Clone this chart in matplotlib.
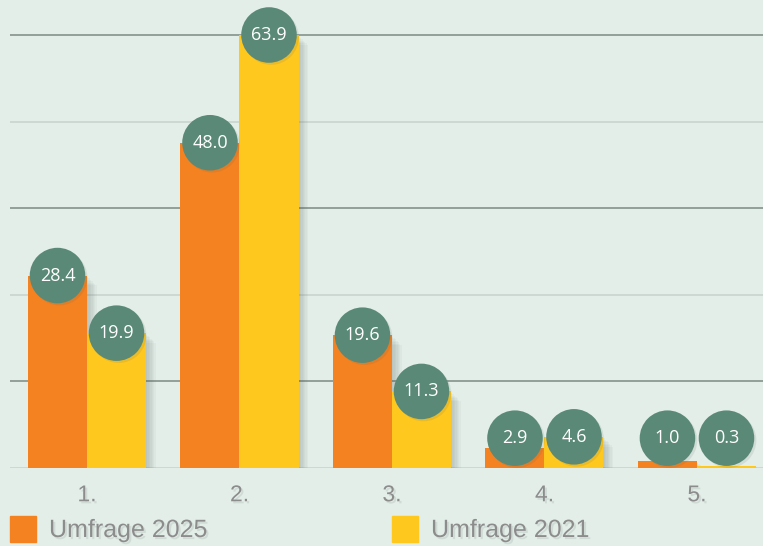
import numpy as np
import matplotlib.pyplot as plt
import matplotlib.patheffects as pe
from matplotlib.patches import Rectangle

# Umfrage-Ergebnisse
categories = ['1.', '2.', '3.', '4.', '5.']
umfrage_2025 = [28.4, 48.0, 19.6, 2.9, 1.0]
umfrage_2021 = [19.9, 63.9, 11.3, 4.6, 0.3]
series_names = ['Umfrage 2025', 'Umfrage 2021']

bg = '#e3eee9'
orange = '#f58220'
yellow = '#ffc81f'
bubble = '#5a8a77'
grey_txt = '#8c8c8c'

plt.rcParams['font.family'] = ['Liberation Sans', 'DejaVu Sans']

fig = plt.figure(figsize=(7.63, 5.46), dpi=100, facecolor=bg)
ax = fig.add_axes([10 / 763, 1 - 468 / 546, 1 - 10 / 763, 468 / 546])
ax.set_facecolor(bg)

x = np.arange(len(categories))
w = 0.387
vmax = max(max(umfrage_2025), max(umfrage_2021))

# gridlines, max/5 steps, alternating dark / light
for i, gy in enumerate(np.linspace(0, vmax, 6)):
    col = '#7d8a83' if i % 2 == 1 else '#c8d2cd'
    ax.axhline(gy, color=col, lw=1.1, zorder=1)

shadow = [pe.SimplePatchShadow(offset=(k, -k), shadow_rgbFace='#55605a', alpha=0.045)
          for k in range(1, 8)] + [pe.Normal()]
txt_shadow = [pe.withSimplePatchShadow(offset=(1.5, -1.5), shadow_rgbFace='#9aa49f', alpha=0.25)]

b1 = ax.bar(x - w / 2, umfrage_2025, w, color=orange, zorder=3)
b2 = ax.bar(x + w / 2, umfrage_2021, w, color=yellow, zorder=3)
for b in list(b1) + list(b2):
    b.set_path_effects(shadow)

# value bubbles
bub_shadow = [pe.SimplePatchShadow(offset=(1.5, -1.5), shadow_rgbFace='#55605a', alpha=0.12),
              pe.Normal()]
for xs, vals in ((x - w / 2, umfrage_2025), (x + w / 2, umfrage_2021)):
    ly = [max(v, 4.4) for v in vals]
    sc = ax.scatter(xs, ly, s=1600, color=bubble, zorder=5, clip_on=False, linewidths=0)
    sc.set_path_effects(bub_shadow)
    for xi, yi, v in zip(xs, ly, vals):
        ax.text(xi, yi, f'{v:.1f}', ha='center', va='center', color='white',
                fontsize=13, family=['Open Sans', 'DejaVu Sans'], zorder=6)

ax.set_xlim(-0.505, 4.433)
ax.set_ylim(0, vmax * 468 / 433)
ax.set_xticks(x)
ax.set_xticklabels(categories, fontsize=16.5, color=grey_txt)
for t in ax.get_xticklabels():
    t.set_path_effects(txt_shadow)
ax.tick_params(axis='x', length=0, pad=11)
ax.set_yticks([])
for s in ax.spines.values():
    s.set_visible(False)

# legend
for lx, col, name in ((10, orange, series_names[0]), (392, yellow, series_names[1])):
    fig.patches.append(Rectangle((lx / 763, 1 - 542 / 546), 26 / 763, 26 / 546,
                                 transform=fig.transFigure, color=col, figure=fig))
    fig.text((lx + 39) / 763, 1 - 530 / 546, name, fontsize=18, color=grey_txt,
             va='center', ha='left', path_effects=txt_shadow)

fig.savefig('out.png', dpi=100, facecolor=bg)
